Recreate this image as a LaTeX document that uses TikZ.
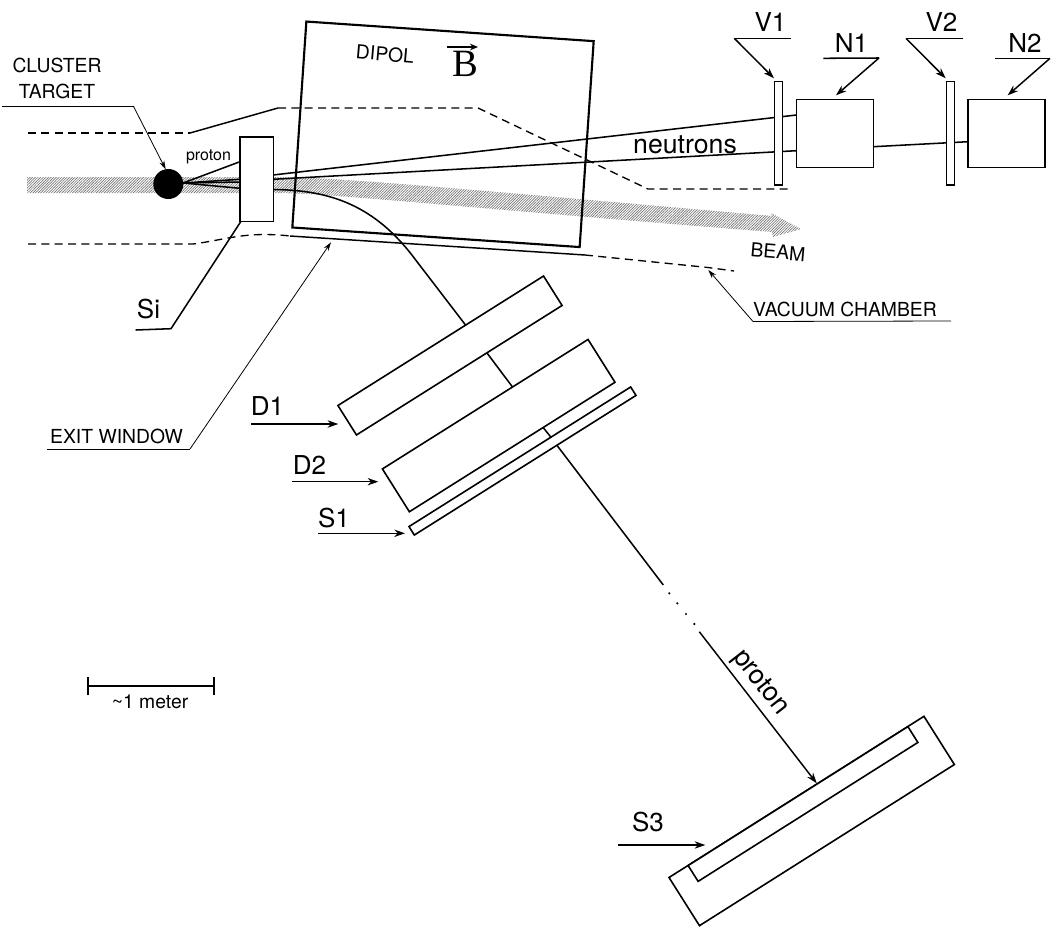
\documentclass[tikz,border=0pt]{standalone}
\usepackage{fontspec}
\setmainfont{TeX Gyre Heros}
\newfontfamily\fieldfont{Liberation Serif}
\usetikzlibrary{arrows.meta,patterns.meta}

\tikzset{
	counter/.style 2 args={draw,fill=white,line width=1.2pt,inner sep=0pt,outer sep=0pt,minimum width=#1*0.75pt,minimum height=#2*0.75pt},
	track/.style={line width=1.15pt},
	leader/.style={line width=0.6pt},
	pointer/.style={line width=1.1pt,-{Stealth[length=8pt,width=5.5pt]}},
	thinpointer/.style={line width=0.6pt,-{Stealth[length=6.5pt,width=4pt]}},
	chamber/.style={line width=1pt,dash pattern=on 6pt off 4pt},
	beam/.style={pattern={Lines[distance=1.4pt,angle=45,line width=0.5pt]},pattern color=black!55},
	caption/.style={inner sep=0pt,font=\fontsize{14.5}{19}\selectfont,align=center},
	tag/.style={inner sep=0pt,font=\fontsize{19.5}{22}\selectfont}
}

\begin{document}
\begin{tikzpicture}[x=0.75pt,y=-0.75pt]
	\useasboundingbox (0,0) rectangle (1053,928);

	% beam
	\fill[beam] (27,177) -- (273,177) .. controls (330,177) and (420,185) .. (772,216)
		-- (771,213) -- (801,229) -- (773,237) -- (772,232)
		.. controls (420,204) and (330,193) .. (273,193) -- (27,193) -- cycle;

	% vacuum chamber
	\coordinate (upA) at (28,133);
	\coordinate (upB) at (190,133);
	\coordinate (upC) at (278,108);
	\coordinate (upD) at (478,108);
	\coordinate (upE) at (648,189);
	\coordinate (upF) at (792,189);
	\coordinate (lowA) at (28,244);
	\coordinate (lowB) at (193,244);
	\coordinate (lowC) at (290,236);
	\coordinate (lowD) at (585,255);
	\coordinate (lowE) at (708,267.5);
	\coordinate (lowF) at (734,271);
	\draw[chamber] (upA) -- (upB);
	\draw[line width=1.1pt] (upB) -- (upC);
	\draw[chamber] (upC) -- (upD) -- (upE) -- (upF);
	\draw[chamber] (lowA) -- (lowB) .. controls (225,240) and (245,231) .. (lowC);
	\draw[line width=1.1pt] (lowC) -- (lowD);
	\draw[chamber] (lowD) -- (lowE) -- (lowF);

	% tracks out of the target
	\node[circle,fill=black,inner sep=0pt,minimum size=30*0.75pt] (target) at (168.3,184) {};
	\coordinate (fromtarget) at (183,183);
	\coordinate (siA) at (240,161.7);
	\coordinate (siB) at (240,179.3);
	\coordinate (siC) at (240,182);
	\coordinate (siD) at (240,188.3);
	\draw[track] (fromtarget) -- (siA);
	\draw[track] (fromtarget) -- (siB);
	\draw[track] (fromtarget) -- (siC);
	\draw[track] (fromtarget) -- (siD);

	% neutrons
	\coordinate (nA) at (273,175);
	\coordinate (nB) at (273,179.3);
	\coordinate (nC) at (273,189.5);
	\coordinate (nD) at (415.7,260);
	\coordinate (nE) at (465.3,324.7);
	\coordinate (nF) at (796.5,115);
	\coordinate (nG) at (796.5,150.7);
	\coordinate (nH) at (873.3,146.7);
	\coordinate (nI) at (968,141.7);
	\draw[track] (nA) -- (nF);
	\draw[track] (nB) -- (nG);
	\draw[track] (nH) -- (nI);
	\draw[track] (nC) .. controls (330,190) and (375,205) .. (nD) -- (nE);

	% detectors
	\node[counter={33.3}{84.7}] (si) at (256.7,179.3) {};
	\node[draw,line width=1.6pt,inner sep=0pt,minimum width=288*0.75pt,minimum height=206.4*0.75pt,rotate=-3.9] (dipol) at (443,134.3) {};
	\node[counter={8}{103.3}] (v1) at (778.3,133.3) {};
	\node[counter={77}{68.3}] (n1) at (834.8,133.5) {};
	\node[counter={8}{103.3}] (v2) at (950.3,133.3) {};
	\node[counter={77}{68.3}] (n2) at (1006.5,133.5) {};
	\node[counter={243}{34.8},rotate=32.2] (d1) at (450,355.5) {};
	\node[counter={243}{50.6},rotate=32.2] (d2) at (498.7,425.6) {};
	\node[counter={262}{10},rotate=32.2] (s1) at (522.5,461) {};
	\node[counter={301.6}{57},rotate=32.3] (s3) at (811.7,821) {};
	\node[counter={260}{18.7},rotate=32.3] (s3in) at (803,804) {};

	% proton path behind the detectors
	\coordinate (pA) at (487,353);
	\coordinate (pB) at (512.3,386.7);
	\coordinate (pC) at (543.3,427.7);
	\coordinate (pD) at (551.3,437.7);
	\coordinate (pE) at (556.7,445);
	\coordinate (pF) at (663.3,585);
	\coordinate (pG) at (699.3,631.7);
	\coordinate (pH) at (816.7,783.3);
	\draw[track] (pA) -- (pB);
	\draw[track] (pC) -- (pD);
	\draw[track] (pE) -- (pF);
	\foreach \xdot/\ydot in {669.3/593.3,677.3/603.3,686/614,694.3/624}
		\fill (\xdot,\ydot) circle (0.9pt);
	\draw[pointer] (pG) -- (pH);

	% labels with leaders
	\node[caption] (cluster) at (57,78.5) {CLUSTER\\TARGET};
	\coordinate (clA) at (2,106);
	\coordinate (clB) at (133.3,106);
	\coordinate (clC) at (165.7,169.3);
	\draw[leader] (clA) -- (clB);
	\draw[thinpointer] (clB) -- (clC);

	\node[tag] (silabel) at (148.5,309) {Si};
	\coordinate (slA) at (135.7,330);
	\coordinate (slB) at (171,328.7);
	\coordinate (slC) at (240.7,221.7);
	\draw[track] (slA) -- (slB) -- (slC);

	\node[caption] (exit) at (116.5,436) {EXIT WINDOW};
	\coordinate (exA) at (47,449);
	\coordinate (exB) at (190,449);
	\coordinate (exC) at (331,242.3);
	\draw[leader] (exA) -- (exB);
	\draw[thinpointer] (exB) -- (exC);

	\node[caption] (vacuum) at (845,309) {VACUUM CHAMBER};
	\coordinate (vcA) at (951,321);
	\coordinate (vcB) at (753,321.5);
	\coordinate (vcC) at (708.3,270);
	\draw[leader] (vcA) -- (vcB);
	\draw[thinpointer] (vcB) -- (vcC);

	\node[tag] (v1label) at (770.5,22) {V1};
	\coordinate (vaA) at (791,38.3);
	\coordinate (vaB) at (734.3,38.3);
	\coordinate (vaC) at (774,78.3);
	\draw[track] (vaA) -- (vaB);
	\draw[pointer] (vaB) -- (vaC);

	\node[tag] (n1label) at (851.5,43) {N1};
	\coordinate (naA) at (823.3,58.3);
	\coordinate (naB) at (879,58);
	\coordinate (naC) at (836,95.3);
	\draw[track] (naA) -- (naB);
	\draw[pointer] (naB) -- (naC);

	\node[tag] (v2label) at (941.5,22) {V2};
	\coordinate (vbA) at (963.3,38.3);
	\coordinate (vbB) at (906,38.3);
	\coordinate (vbC) at (945.7,78.3);
	\draw[track] (vbA) -- (vbB);
	\draw[pointer] (vbB) -- (vbC);

	\node[tag] (n2label) at (1025,43) {N2};
	\coordinate (nbA) at (995,58.3);
	\coordinate (nbB) at (1050,58.3);
	\coordinate (nbC) at (1007.7,95.3);
	\draw[track] (nbA) -- (nbB);
	\draw[pointer] (nbB) -- (nbC);

	\node[tag] (d1label) at (267.5,406) {D1};
	\coordinate (daA) at (251,424);
	\coordinate (daB) at (338.3,424);
	\draw[pointer] (daA) -- (daB);

	\node[tag] (d2label) at (309.5,465) {D2};
	\coordinate (dbA) at (291.7,481.7);
	\coordinate (dbB) at (378.3,481.7);
	\draw[pointer] (dbA) -- (dbB);

	\node[tag] (s1label) at (334,518) {S1};
	\coordinate (saA) at (318.3,533.3);
	\coordinate (saB) at (405,533.3);
	\draw[pointer] (saA) -- (saB);

	\node[tag] (s3label) at (648,822) {S3};
	\coordinate (sbA) at (618,845);
	\coordinate (sbB) at (705.3,845);
	\draw[pointer] (sbA) -- (sbB);

	% free labels
	\node[inner sep=0pt,font=\fontsize{12}{14}\selectfont] (smallproton) at (208.5,157) {proton};
	\node[tag,font=\fontsize{20}{22}\selectfont] (neutrons) at (685,145) {neutrons};
	\node[caption,rotate=-5] (dipollabel) at (385,54) {DIPOL};
	\node[caption,rotate=-5] (beamlabel) at (778,252) {BEAM};
	\node[tag,font=\fontsize{20}{22}\selectfont,rotate=-52] (protonlabel) at (760,683) {proton};
	\node[inner sep=0pt,font=\fieldfont\fontsize{29}{31}\selectfont] (bfield) at (465,64) {B};
	\coordinate (bfA) at (447,47);
	\coordinate (bfB) at (478,47);
	\draw[line width=0.9pt,-{Stealth[length=6pt,width=5pt]}] (bfA) -- (bfB);

	% scale bar
	\coordinate (scA) at (87,686);
	\coordinate (scB) at (215,686);
	\draw[track,{Bar[width=13pt]}-{Bar[width=13pt]}] (scA) -- (scB);
	\node[caption] (scale) at (150,702) {\textasciitilde 1 meter};
\end{tikzpicture}
\end{document}
